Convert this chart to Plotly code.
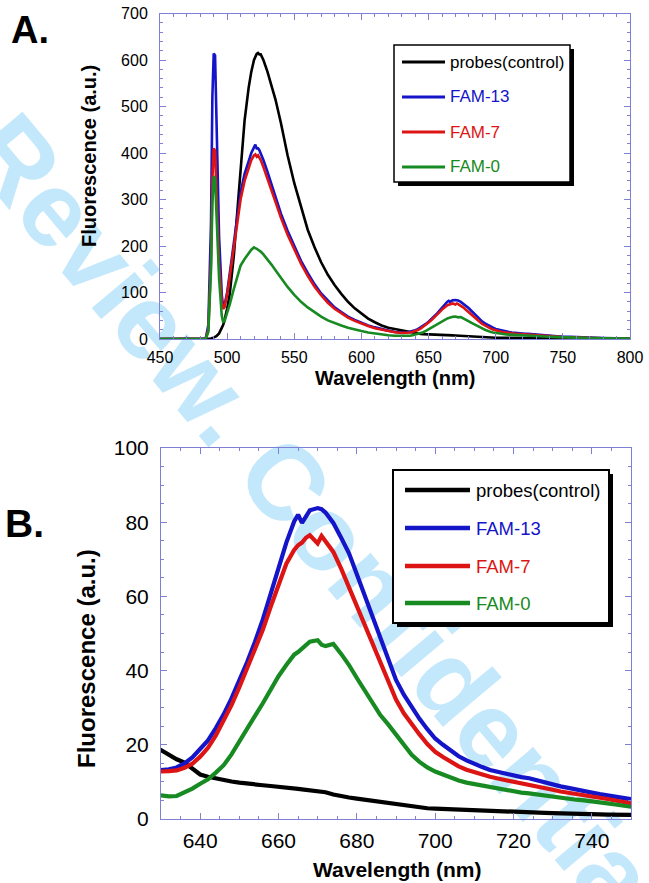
import plotly.graph_objects as go

# ---------------- data ----------------
WAVELENGTH = [
    450, 480, 484, 486, 488, 489, 490, 491, 492, 494,
    496, 497, 498, 500, 502, 505, 508, 510, 513, 516,
    518, 520, 521, 522, 523, 524, 525, 527, 530, 533,
    536, 540, 545, 550, 555, 560, 565, 570, 575, 580,
    585, 590, 595, 600, 605, 610, 615, 620, 625,
    630, 632, 634, 636, 638, 640, 642, 644, 646, 648,
    650, 652, 654, 656, 658, 660, 662, 664, 665, 666,
    667, 668, 670, 671, 672, 674, 676, 678, 680, 682,
    684, 686, 688, 690, 692, 694, 696, 698, 700, 702,
    704, 706, 708, 710, 712, 714, 716, 718, 720, 722,
    724, 726, 728, 730, 732, 734, 736, 738, 740, 742,
    744, 746, 748, 750,
    760, 770, 780, 790, 800,
]

PROBES_CONTROL = [
    0, 0, 0, 0, 1, 2, 3, 4, 6, 12,
    22, 30, 40, 65, 98, 180, 290, 365, 470, 540,
    575, 600, 608, 613, 615, 612, 612, 600, 575, 545,
    515, 465, 395, 335, 282, 235, 198, 165, 138, 116,
    97, 80, 66, 54, 44, 36, 29, 24, 21,
    18.6, 17.3, 16.1, 15.2, 13.6, 12.0, 11.4, 10.9, 10.5, 10.1,
    9.8, 9.5, 9.3, 9.1, 8.9, 8.6, 8.4, 8.2, 8.1, 8.0,
    7.9, 7.8, 7.6, 7.4, 7.2, 6.6, 6.1, 5.8, 5.5, 5.2,
    4.9, 4.6, 4.3, 4.0, 3.7, 3.4, 3.2, 2.9, 2.8, 2.7,
    2.6, 2.5, 2.4, 2.3, 2.2, 2.1, 2.0, 1.95, 1.9, 1.85,
    1.8, 1.7, 1.65, 1.6, 1.5, 1.45, 1.4, 1.35, 1.3, 1.25,
    1.2, 1.15, 1.1, 1.1,
    0.8, 0.6, 0.5, 0.4, 0.3,
]

FAM_13 = [
    0, 0, 0, 30, 250, 520, 614, 610, 470, 220,
    95, 70, 72, 100, 142, 205, 275, 315, 355, 385,
    400, 412, 418, 410, 410, 406, 400, 385, 360, 332,
    305, 270, 233, 200, 168, 142, 118, 98, 82, 68,
    58, 48, 41, 35, 29, 25, 21, 18, 15,
    13.2, 13.4, 13.9, 15.0, 16.6, 18.8, 21.2, 24.5, 28.2, 32.5,
    37.3, 42.3, 47.8, 53.8, 60.7, 67.8, 74.5, 80.2, 82.0, 79.8,
    81.8, 83.2, 83.8, 83.5, 82.6, 79.8, 75.8, 71.6, 66.0, 60.2,
    54.5, 48.8, 42.5, 37.5, 33.5, 30.0, 27.0, 24.2, 21.7, 20.0,
    18.4, 16.9, 15.8, 14.8, 14.0, 13.2, 12.7, 12.3, 11.8, 11.3,
    11.0, 10.4, 9.8, 9.3, 8.8, 8.4, 7.9, 7.5, 7.1, 6.7,
    6.3, 5.9, 5.5, 5.1,
    3.6, 2.6, 1.9, 1.4, 1.0,
]

FAM_7 = [
    0, 0, 0, 20, 170, 340, 410, 405, 320, 160,
    80, 65, 68, 95, 135, 195, 262, 300, 340, 370,
    385, 395, 397, 392, 395, 390, 385, 370, 347, 320,
    295, 261, 224, 192, 162, 136, 113, 94, 78, 65,
    55, 46, 39, 33, 28, 23, 20, 17, 14.5,
    12.8, 12.9, 13.1, 13.8, 14.9, 16.8, 19.2, 22.5, 26.4, 30.7,
    35.5, 40.5, 45.6, 51.0, 57.2, 63.2, 68.8, 72.5, 73.8, 74.5,
    75.8, 76.5, 74.3, 76.3, 75.0, 72.0, 67.5, 62.5, 57.0, 52.0,
    47.5, 42.5, 37.0, 32.2, 28.5, 25.5, 22.8, 20.2, 18.1, 16.7,
    15.4, 14.2, 13.3, 12.6, 12.0, 11.4, 10.9, 10.5, 10.0, 9.6,
    9.2, 8.8, 8.3, 7.9, 7.4, 7.1, 6.8, 6.5, 6.1, 5.8,
    5.4, 5.0, 4.6, 4.2,
    3.0, 2.2, 1.6, 1.2, 0.9,
]

FAM_0 = [
    0, 0, 0, 15, 150, 290, 350, 345, 270, 130,
    50, 37, 38, 55, 75, 108, 140, 158, 172, 185,
    192, 197, 196, 194, 192, 190, 188, 182, 172, 160,
    148, 132, 112, 95, 80, 68, 58, 48, 40, 34,
    29, 24, 20, 17, 14, 11.5, 9.5, 8, 7,
    6.5, 6.1, 6.2, 7.1, 8.2, 9.5, 10.7, 12.5, 14.5, 17.4,
    21.0, 24.3, 27.8, 31.2, 35.0, 38.5, 41.5, 44.3, 45.0, 46.0,
    47.0, 47.8, 48.2, 47.0, 46.6, 47.2, 44.5, 41.5, 38.0, 34.5,
    31.2, 28.0, 25.5, 22.8, 20.0, 17.3, 15.4, 13.9, 12.8, 12.0,
    11.1, 10.4, 9.8, 9.4, 9.0, 8.5, 8.2, 7.8, 7.5, 7.1,
    6.9, 6.6, 6.2, 5.9, 5.6, 5.4, 5.2, 5.0, 4.8, 4.5,
    4.2, 3.9, 3.6, 3.3,
    2.4, 1.8, 1.3, 1.0, 0.8,
]

SERIES_NAMES = ["probes(control)", "FAM-13", "FAM-7", "FAM-0"]
SERIES_VALUES = [PROBES_CONTROL, FAM_13, FAM_7, FAM_0]
SERIES_COLORS = ["#000000", "#1414c8", "#dc1414", "#178a22"]

for v in SERIES_VALUES:
    assert len(v) == len(WAVELENGTH), (len(v), len(WAVELENGTH))

# ---------------- layout constants ----------------
W, H = 649, 883
FONT = "Liberation Sans, Arial, sans-serif"
AXCOL = "#7f7fd6"


def px(x):
    return x / W


def py(y):
    return 1 - y / H


fig = go.Figure()

for name, vals, col in zip(SERIES_NAMES, SERIES_VALUES, SERIES_COLORS):
    fig.add_trace(go.Scatter(x=WAVELENGTH, y=vals, mode="lines", name=name,
                             line=dict(color=col, width=2.6), xaxis="x", yaxis="y",
                             showlegend=False))
for name, vals, col in zip(SERIES_NAMES, SERIES_VALUES, SERIES_COLORS):
    fig.add_trace(go.Scatter(x=WAVELENGTH, y=vals, mode="lines", name=name,
                             line=dict(color=col, width=4.2), xaxis="x2", yaxis="y2",
                             showlegend=False))


def axis(domain, rng, dtick, mdtick, size, anchor, tick0=None, standoff=4):
    d = dict(domain=domain, range=rng, dtick=dtick, showgrid=False, zeroline=False,
             showline=True, linecolor=AXCOL, linewidth=1, mirror="ticks",
             ticks="inside", ticklen=6, tickwidth=1, tickcolor=AXCOL,
             tickfont=dict(family=FONT, size=size, color="#000000"),
             minor=dict(dtick=mdtick, ticks="inside", ticklen=3, tickwidth=1,
                        tickcolor=AXCOL, showgrid=False),
             anchor=anchor, ticklabelstandoff=standoff, automargin=False)
    if tick0 is not None:
        d["tick0"] = tick0
    return d


fig.update_layout(
    width=W, height=H, autosize=False,
    margin=dict(l=0, r=0, t=0, b=0, autoexpand=False),
    paper_bgcolor="#ffffff", plot_bgcolor="rgba(0,0,0,0)",
    showlegend=False,
    xaxis=axis([px(160), px(630)], [450, 800], 50, 10, 16, "y", standoff=4),
    yaxis=axis([py(339), py(13.5)], [0, 700], 100, 20, 16, "x", standoff=8),
    xaxis2=axis([px(161), px(631)], [630, 750], 20, 5, 21, "y2", tick0=640, standoff=3),
    yaxis2=axis([py(819), py(448)], [0, 100], 20, 5, 21, "x2", standoff=7),
)

shapes = []
annotations = []

# watermark (behind everything)
shapes.append(dict(type="line", xref="paper", yref="paper", layer="below",
                   x0=px(-132), y0=py(-32), x1=px(663), y1=py(916),
                   line=dict(color="rgba(0,0,0,0)", width=1),
                   label=dict(text="For Review. Confidential", textposition="middle",
                              yanchor="middle",
                              font=dict(family=FONT, size=106, color="#c4e8fb",
                                        weight="bold"))))


def legend(box, shadow, line_x, text_x, rows, font_size, lw, border):
    x0, y0, x1, y1 = box
    shapes.append(dict(type="rect", xref="paper", yref="paper", layer="above",
                       x0=px(x0 + shadow), y0=py(y1 + shadow), x1=px(x1 + shadow), y1=py(y0 + shadow),
                       fillcolor="#000000", line=dict(width=0)))
    shapes.append(dict(type="rect", xref="paper", yref="paper", layer="above",
                       x0=px(x0), y0=py(y1), x1=px(x1), y1=py(y0),
                       fillcolor="#ffffff", line=dict(color="#000000", width=border)))
    for name, col, ry in zip(SERIES_NAMES, SERIES_COLORS, rows):
        shapes.append(dict(type="line", xref="paper", yref="paper", layer="above",
                           x0=px(line_x[0]), x1=px(line_x[1]), y0=py(ry), y1=py(ry),
                           line=dict(color=col, width=lw)))
        annotations.append(dict(text=name, xref="paper", yref="paper", showarrow=False,
                                x=px(text_x), y=py(ry), xanchor="left", yanchor="middle",
                                font=dict(family=FONT, size=font_size, color=col)))


legend((394, 45, 570, 182), 4, (402, 445), 448, (62, 97, 132, 167), 17, 3, 1.5)
legend((393, 470, 609, 623), 4, (405, 470), 474, (490, 528, 566, 603), 18.5, 4.5, 2)


def text(t, x, y, size, angle=0, bold=True):
    annotations.append(dict(text=t, xref="paper", yref="paper", showarrow=False,
                            x=px(x), y=py(y), xanchor="center", yanchor="middle",
                            textangle=angle,
                            font=dict(family=FONT, size=size, color="#000000",
                                      weight="bold" if bold else "normal")))


text("A.", 30, 30, 38)
text("B.", 24, 523, 39)
text("Fluorescence (a.u.)", 89, 156, 20, -90)
text("Wavelength (nm)", 395, 378, 20)
text("Fluorescence (a.u.)", 86, 659, 24, -90)
text("Wavelength (nm)", 397, 869, 21)

fig.update_layout(shapes=shapes, annotations=annotations)
fig.write_html("out.html", config={"displayModeBar": False},
               post_script="document.body.style.margin='0';document.body.style.overflow='hidden';")
